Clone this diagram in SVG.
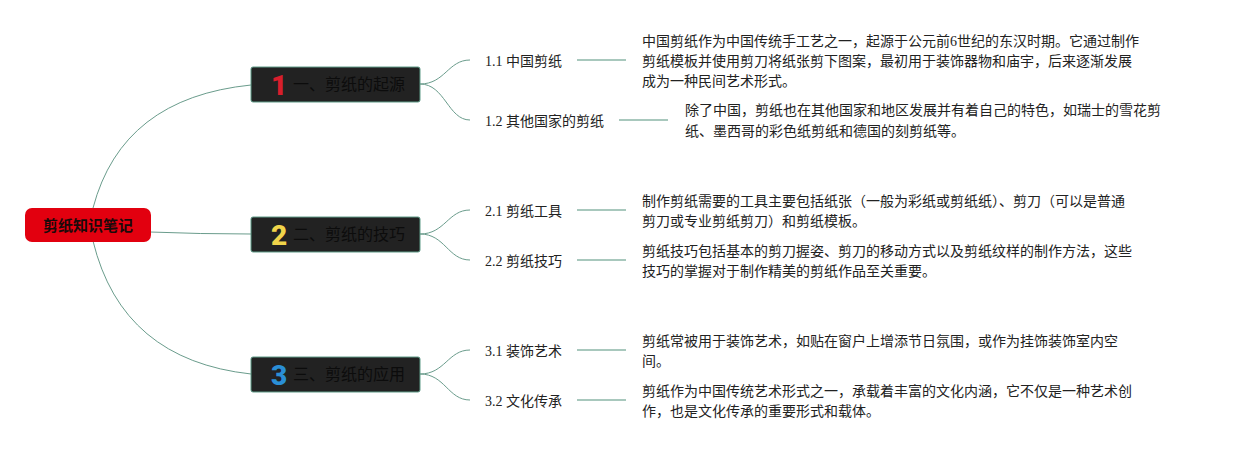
<svg xmlns="http://www.w3.org/2000/svg" width="1244" height="450" viewBox="0 0 1244 450">
<style>
.bg{fill:#ffffff}
.conn{fill:none;stroke:#6a9c8c;stroke-width:1}
.tail{fill:none;stroke:#a8c8bd;stroke-width:2}
.root{fill:#e2000f}
.roott{font-family:"Noto Sans CJK SC","Noto Sans",sans-serif;font-size:15px;font-weight:bold;fill:#1a0a0a;text-anchor:middle}
.br{fill:#222222;stroke:#5e9c88;stroke-width:1}
.brt{font-family:"Noto Sans CJK SC","Noto Sans",sans-serif;font-size:16px;fill:#0c0c0c}
.num{font-family:"Roboto","Liberation Sans",sans-serif;font-size:28px;font-weight:900;text-anchor:middle}
.sub{font-family:"Liberation Serif","Noto Sans CJK SC",serif;font-size:14px;fill:#222222}
.desc{font-family:"Liberation Serif","Noto Sans CJK SC",serif;font-size:14px;fill:#222222}
</style>
<rect class="bg" x="0" y="0" width="1244" height="450"/>
<g id="connectors">
<path class="conn" d="M93,208 Q122,98 251,85"/>
<path class="conn" d="M150,232 Q200,234 251,234"/>
<path class="conn" d="M93,241 Q122,360 251,374"/>
<path class="conn" d="M420,84 C445,84 448,60 470,60"/>
<path class="conn" d="M420,84 C445,84 448,120 470,120"/>
<path class="conn" d="M420,234 C445,234 448,210 470,210"/>
<path class="conn" d="M420,234 C445,234 448,260 470,260"/>
<path class="conn" d="M420,374 C445,374 448,350 470,350"/>
<path class="conn" d="M420,374 C445,374 448,400 470,400"/>
<line class="tail" x1="577" y1="60" x2="626" y2="60"/>
<line class="tail" x1="619" y1="120" x2="668" y2="120"/>
<line class="tail" x1="577" y1="210" x2="626" y2="210"/>
<line class="tail" x1="577" y1="260" x2="626" y2="260"/>
<line class="tail" x1="577" y1="350" x2="626" y2="350"/>
<line class="tail" x1="577" y1="400" x2="626" y2="400"/>
</g>
<g id="root">
<rect class="root" x="25" y="208" width="126" height="34" rx="7"/>
<text class="roott" x="88" y="230.5">剪纸知识笔记</text>
</g>
<g id="branch1">
<rect class="br" x="251" y="67" width="169" height="35" rx="2"/>
<text class="num" x="279" y="95" fill="#d81e2c">1</text>
<text class="brt" x="293" y="90">一、剪纸的起源</text>
</g>
<g id="branch2">
<rect class="br" x="251" y="217" width="169" height="35" rx="2"/>
<text class="num" x="279" y="245" fill="#f0d44a">2</text>
<text class="brt" x="293" y="240">二、剪纸的技巧</text>
</g>
<g id="branch3">
<rect class="br" x="251" y="357" width="169" height="35" rx="2"/>
<text class="num" x="279" y="385" fill="#2a8fd6">3</text>
<text class="brt" x="293" y="380">三、剪纸的应用</text>
</g>
<g id="sub11">
<text class="sub" x="485" y="66">1.1 中国剪纸</text>
<text class="desc" x="642" y="46">中国剪纸作为中国传统手工艺之一，起源于公元前6世纪的东汉时期。它通过制作</text>
<text class="desc" x="642" y="66">剪纸模板并使用剪刀将纸张剪下图案，最初用于装饰器物和庙宇，后来逐渐发展</text>
<text class="desc" x="642" y="86">成为一种民间艺术形式。</text>
</g>
<g id="sub12">
<text class="sub" x="485" y="126">1.2 其他国家的剪纸</text>
<text class="desc" x="685" y="115">除了中国，剪纸也在其他国家和地区发展并有着自己的特色，如瑞士的雪花剪</text>
<text class="desc" x="685" y="136">纸、墨西哥的彩色纸剪纸和德国的刻剪纸等。</text>
</g>
<g id="sub21">
<text class="sub" x="485" y="216">2.1 剪纸工具</text>
<text class="desc" x="642" y="206">制作剪纸需要的工具主要包括纸张（一般为彩纸或剪纸纸）、剪刀（可以是普通</text>
<text class="desc" x="642" y="226">剪刀或专业剪纸剪刀）和剪纸模板。</text>
</g>
<g id="sub22">
<text class="sub" x="485" y="266">2.2 剪纸技巧</text>
<text class="desc" x="642" y="256">剪纸技巧包括基本的剪刀握姿、剪刀的移动方式以及剪纸纹样的制作方法，这些</text>
<text class="desc" x="642" y="276">技巧的掌握对于制作精美的剪纸作品至关重要。</text>
</g>
<g id="sub31">
<text class="sub" x="485" y="356">3.1 装饰艺术</text>
<text class="desc" x="642" y="346">剪纸常被用于装饰艺术，如贴在窗户上增添节日氛围，或作为挂饰装饰室内空</text>
<text class="desc" x="642" y="366">间。</text>
</g>
<g id="sub32">
<text class="sub" x="485" y="406">3.2 文化传承</text>
<text class="desc" x="642" y="396">剪纸作为中国传统艺术形式之一，承载着丰富的文化内涵，它不仅是一种艺术创</text>
<text class="desc" x="642" y="416">作，也是文化传承的重要形式和载体。</text>
</g>
</svg>
